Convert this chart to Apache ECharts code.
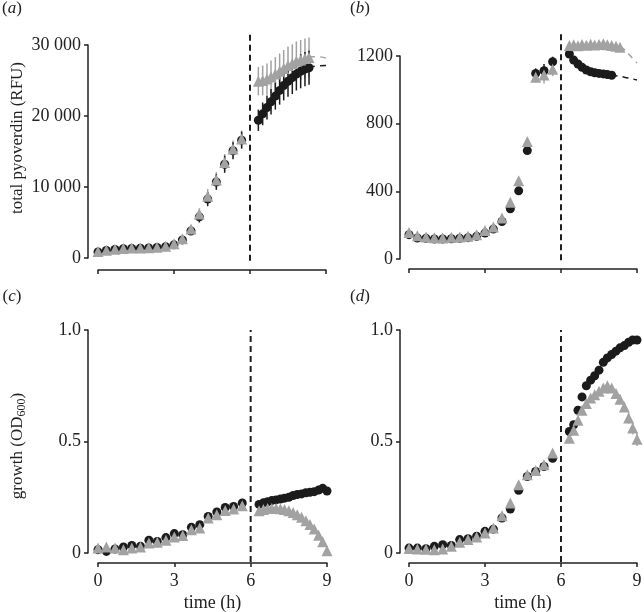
<!DOCTYPE html>
<html><head><meta charset="utf-8">
<script src="https://cdn.jsdelivr.net/npm/echarts@6/dist/echarts.min.js"></script>
<style>html,body{margin:0;padding:0;background:#fff}#c{width:644px;height:612px}</style>
</head><body><div id="c"></div>
<script>
// ---- time points (h) ----
const timePre = [0, 0.33, 0.67, 1, 1.33, 1.67, 2, 2.33, 2.67, 3, 3.33, 3.67, 4, 4.33, 4.67, 5, 5.33, 5.67];
const timePostA = [6.33, 6.5, 6.67, 6.83, 7, 7.17, 7.33, 7.5, 7.67, 7.83, 8, 8.17, 8.33];
const timePostBBlack = [6.33, 6.5, 6.67, 6.83, 7, 7.17, 7.33, 7.5, 7.67, 7.83, 8];
const timePostBGray = [6.33, 6.5, 6.67, 6.83, 7, 7.17, 7.33, 7.5, 7.67, 7.83, 8, 8.17, 8.33];
const timePostCD = [6.33, 6.5, 6.67, 6.83, 7, 7.17, 7.33, 7.5, 7.67, 7.83, 8, 8.17, 8.33, 8.5, 8.67, 8.83, 9];
const switchTime = 6;

// ---- (a) total pyoverdin (RFU) ----
const aBlackPre = [850, 1050, 1200, 1300, 1350, 1380, 1420, 1480, 1600, 1850, 2550, 3800, 5800, 8300, 10700, 13200, 15100, 16600];
const aGrayPre  = [900, 1100, 1250, 1350, 1400, 1420, 1450, 1520, 1650, 2000, 2700, 4100, 6200, 8700, 11000, 13450, 15350, 16750];
const aErrBlackPre = [100, 100, 100, 100, 100, 100, 100, 150, 200, 300, 400, 500, 800, 1000, 1100, 1200, 1200, 1200];
const aErrGrayPre  = [100, 100, 100, 100, 100, 100, 100, 150, 200, 300, 400, 500, 800, 1000, 1100, 1200, 1200, 1200];
const aBlackPost = [19400, 20300, 21200, 22000, 22800, 23600, 24300, 24900, 25400, 25900, 26300, 26600, 26800];
const aGrayPost  = [24900, 25000, 25200, 25500, 25900, 26300, 26700, 27100, 27400, 27700, 27900, 28100, 28250];
const aErrBlackPost = [1500, 1600, 1700, 1800, 1900, 2000, 2100, 2200, 2300, 2300, 2400, 2400, 2400];
const aErrGrayPost  = [2000, 2100, 2200, 2300, 2400, 2500, 2600, 2700, 2700, 2800, 2800, 2800, 2800];
const aFitTime = [8.33, 8.67, 9];
const aFitBlack = [26850, 27050, 27100];
const aFitGray  = [28350, 28350, 28150];

// ---- (b) ----
const bBlackPre = [144, 124, 122, 118, 118, 120, 122, 126, 134, 153, 177, 222, 297, 403, 641, 1097, 1113, 1166];
const bGrayPre  = [157, 138, 130, 126, 124, 128, 130, 134, 144, 169, 189, 242, 336, 462, 694, 1074, 1088, 1121];
const bErrBlackPre = [8, 8, 8, 8, 8, 8, 8, 8, 8, 8, 10, 10, 12, 15, 20, 30, 40, 30];
const bErrGrayPre  = [8, 8, 8, 8, 8, 8, 8, 8, 8, 8, 10, 10, 12, 15, 20, 30, 50, 40];
const bBlackPost = [1212, 1176, 1153, 1133, 1117, 1107, 1101, 1097, 1094, 1090, 1086];
const bGrayPost  = [1262, 1266, 1260, 1268, 1264, 1270, 1265, 1268, 1272, 1266, 1262, 1258, 1252];
const bErrBlackPost = [6, 6, 6, 6, 6, 6, 6, 6, 6, 6, 6];
const bErrGrayPost  = [15, 15, 18, 15, 18, 15, 18, 15, 18, 15, 15, 12, 10];
const bFitTimeBlack = [8, 8.5, 9];
const bFitBlack = [1086, 1075, 1058];
const bFitTimeGray = [8.33, 8.5, 8.67, 8.83, 9];
const bFitGray = [1255, 1238, 1212, 1185, 1158];

// ---- (c) growth (OD600) ----
const cBlackPre = [0.015, 0.007, 0.018, 0.027, 0.034, 0.03, 0.057, 0.052, 0.069, 0.087, 0.082, 0.115, 0.127, 0.164, 0.184, 0.204, 0.209, 0.224];
const cGrayPre  = [0.022, 0.027, 0.022, 0.015, 0.022, 0.027, 0.045, 0.048, 0.057, 0.072, 0.078, 0.104, 0.112, 0.157, 0.172, 0.191, 0.197, 0.212];
const cBlackPost = [0.218, 0.225, 0.23, 0.235, 0.238, 0.242, 0.246, 0.25, 0.258, 0.262, 0.265, 0.27, 0.272, 0.275, 0.282, 0.29, 0.278];
const cGrayPost  = [0.19, 0.195, 0.2, 0.2, 0.2, 0.198, 0.195, 0.19, 0.182, 0.172, 0.16, 0.145, 0.128, 0.108, 0.08, 0.05, 0.01];
const cErrGrayPost = [0.005, 0.005, 0.005, 0.005, 0.005, 0.005, 0.005, 0.006, 0.006, 0.007, 0.008, 0.009, 0.01, 0.012, 0.014, 0.016, 0.018];

// ---- (d) ----
const dBlackPre = [0.022, 0.022, 0.019, 0.03, 0.037, 0.034, 0.06, 0.064, 0.075, 0.097, 0.107, 0.157, 0.197, 0.281, 0.343, 0.366, 0.388, 0.425];
const dGrayPre  = [0.02, 0.018, 0.017, 0.015, 0.018, 0.03, 0.048, 0.06, 0.072, 0.09, 0.112, 0.167, 0.224, 0.306, 0.351, 0.37, 0.396, 0.448];
const dBlackPost = [0.545, 0.575, 0.64, 0.70, 0.75, 0.775, 0.795, 0.82, 0.855, 0.875, 0.89, 0.905, 0.92, 0.93, 0.945, 0.955, 0.955];
const dGrayPost  = [0.515, 0.55, 0.595, 0.64, 0.67, 0.695, 0.71, 0.725, 0.74, 0.75, 0.74, 0.715, 0.69, 0.655, 0.605, 0.56, 0.51];
const dErrGrayPost = [0.01, 0.01, 0.012, 0.012, 0.012, 0.012, 0.012, 0.012, 0.012, 0.012, 0.015, 0.018, 0.02, 0.022, 0.025, 0.028, 0.03];

// ---- axes ----
const xTicks = [0, 3, 6, 9];
const xTickLabels = ['0', '3', '6', '9'];
const yTickLabelsA = ['0', '10 000', '20 000', '30 000'];
const yTickLabelsB = ['0', '400', '800', '1200'];
const yTickLabelsCD = ['0', '0.5', '1.0'];
const yMax = [30000, 1200, 1, 1];
const yInterval = [10000, 400, 0.5, 0.5];
const dividerTop = [31700, 1340, 1.0, 1.0];
const dividerBottom = [-380, -8, -0.04, -0.04];
const panelLabels = ['a', 'b', 'c', 'd'];
const yTitles = ['total pyoverdin (RFU)', 'growth (OD{sub|600})'];

// ---- styling / layout ----
const FONT = 'Liberation Serif';
const BLACK = '#1b1b1b';
const GRAY = '#a2a2a2';
const AXIS = '#222';
const grids = [
  {left: 98, top: 45, width: 228, height: 213},
  {left: 409, top: 56, width: 228, height: 203},
  {left: 98, top: 330, width: 229, height: 223},
  {left: 409, top: 330, width: 228, height: 223}
];
const xOffsets = [12, 10, 10, 10];
const yOffsets = [10, 9, 10, 9];
const yLabelSets = [yTickLabelsA, yTickLabelsB, yTickLabelsCD, yTickLabelsCD];

function pts(t, v) { return t.map((x, k) => [x, v[k]]); }
function zeros(n) { return new Array(n).fill(0); }

function errSeries(i, t, v, e, color) {
  return {
    type: 'custom', xAxisIndex: i, yAxisIndex: i, clip: false, silent: true, z: 2,
    data: t.map((x, k) => [x, v[k] - e[k], v[k] + e[k]]),
    encode: {x: 0, y: [1, 2]},
    renderItem: (params, api) => {
      const p1 = api.coord([api.value(0), api.value(1)]);
      const p2 = api.coord([api.value(0), api.value(2)]);
      return {type: 'line', shape: {x1: p1[0], y1: p1[1], x2: p2[0], y2: p2[1]},
              style: {stroke: color, lineWidth: 1.5}};
    }
  };
}
function scat(i, data, color, sym, size, z) {
  return {type: 'scatter', xAxisIndex: i, yAxisIndex: i, data, clip: false, silent: true,
          symbol: sym, symbolSize: size, itemStyle: {color, opacity: 1}, z};
}
function fit(i, data, color) {
  return {type: 'line', xAxisIndex: i, yAxisIndex: i, data, clip: false, silent: true,
          symbol: 'none', smooth: true, lineStyle: {color, width: 1.5, type: [6, 5]}, z: 1};
}

const panels = [
  {bPre: aBlackPre, gPre: aGrayPre, ebPre: aErrBlackPre, egPre: aErrGrayPre,
   tbPost: timePostA, tgPost: timePostA, bPost: aBlackPost, gPost: aGrayPost, ebPost: aErrBlackPost, egPost: aErrGrayPost,
   fits: [[aFitTime, aFitGray, GRAY], [aFitTime, aFitBlack, BLACK]]},
  {bPre: bBlackPre, gPre: bGrayPre, ebPre: bErrBlackPre, egPre: bErrGrayPre,
   tbPost: timePostBBlack, tgPost: timePostBGray, bPost: bBlackPost, gPost: bGrayPost, ebPost: bErrBlackPost, egPost: bErrGrayPost,
   fits: [[bFitTimeGray, bFitGray, GRAY], [bFitTimeBlack, bFitBlack, BLACK]]},
  {bPre: cBlackPre, gPre: cGrayPre, ebPre: zeros(18), egPre: zeros(18),
   tbPost: timePostCD, tgPost: timePostCD, bPost: cBlackPost, gPost: cGrayPost, ebPost: zeros(17), egPost: cErrGrayPost,
   fits: []},
  {bPre: dBlackPre, gPre: dGrayPre, ebPre: zeros(18), egPre: zeros(18),
   tbPost: timePostCD, tgPost: timePostCD, bPost: dBlackPost, gPost: dGrayPost, ebPost: zeros(17), egPost: dErrGrayPost,
   fits: []}
];

const series = [];
panels.forEach((p, i) => {
  series.push({type: 'line', xAxisIndex: i, yAxisIndex: i, clip: false, silent: true, symbol: 'none',
    data: [[switchTime, dividerBottom[i]], [switchTime, dividerTop[i]]],
    lineStyle: {color: '#1e1e1e', width: 2, type: [6, 4]}, z: 1});
  p.fits.forEach(f => series.push(fit(i, pts(f[0], f[1]), f[2])));
  series.push(errSeries(i, timePre, p.gPre, p.egPre, GRAY));
  series.push(errSeries(i, p.tgPost, p.gPost, p.egPost, GRAY));
  series.push(errSeries(i, timePre, p.bPre, p.ebPre, BLACK));
  series.push(errSeries(i, p.tbPost, p.bPost, p.ebPost, BLACK));
  series.push(scat(i, pts(timePre, p.bPre).concat(pts(p.tbPost, p.bPost)), BLACK, 'circle', 9, 4));
  series.push(scat(i, pts(timePre, p.gPre).concat(pts(p.tgPost, p.gPost)), GRAY, 'triangle', 11, 5));
});

const xAxis = grids.map((g, i) => ({
  gridIndex: i, type: 'value', min: 0, max: 9, interval: 3, offset: xOffsets[i],
  axisLine: {show: true, onZero: false, lineStyle: {color: AXIS, width: 1.5}},
  axisTick: {show: true, length: 4, lineStyle: {color: AXIS, width: 1.5}},
  axisLabel: {show: i >= 2, margin: 9, color: '#222', fontFamily: FONT, fontSize: 18,
    formatter: v => xTickLabels[xTicks.indexOf(v)]},
  splitLine: {show: false},
  name: i >= 2 ? 'time (h)' : '', nameLocation: 'middle', nameGap: 31,
  nameTextStyle: {color: '#222', fontFamily: FONT, fontSize: 18}
}));
const yAxis = grids.map((g, i) => ({
  gridIndex: i, type: 'value', min: 0, max: yMax[i], interval: yInterval[i], offset: yOffsets[i],
  axisLine: {show: true, onZero: false, lineStyle: {color: AXIS, width: 1.5}},
  axisTick: {show: true, length: 4, lineStyle: {color: AXIS, width: 1.5}},
  axisLabel: {show: true, margin: 7, color: '#222', fontFamily: FONT, fontSize: 18,
    formatter: v => yLabelSets[i][Math.round(v / yInterval[i])]},
  splitLine: {show: false}
}));

const labelPos = [[12, 9], [360, 9], [12, 297], [360, 297]];
const graphic = [];
panelLabels.forEach((l, i) => graphic.push({
  type: 'text', x: labelPos[i][0], y: labelPos[i][1],
  style: {text: '({i|' + l + '})', fontFamily: FONT, fontSize: 17, fill: '#222',
    align: 'center', verticalAlign: 'middle',
    rich: {i: {fontStyle: 'italic', fontFamily: FONT, fontSize: 17, fill: '#222'}}}
}));
const titlePos = [[18, 138], [18, 446]];
yTitles.forEach((t, k) => graphic.push({
  type: 'text', x: titlePos[k][0], y: titlePos[k][1], rotation: Math.PI / 2,
  style: {text: t, fontFamily: FONT, fontSize: 17, fill: '#222', align: 'center', verticalAlign: 'middle',
    rich: {sub: {fontFamily: FONT, fontSize: 12, fill: '#222', verticalAlign: 'bottom', padding: [8, 0, 0, 0]}}}
}));

const chart = echarts.init(document.getElementById('c'), null, {renderer: 'canvas'});
chart.setOption({
  animation: false,
  backgroundColor: '#fff',
  textStyle: {fontFamily: FONT},
  grid: grids.map(g => Object.assign({containLabel: false, outerBoundsMode: 'none'}, g)),
  xAxis, yAxis, series, graphic
});
</script></body></html>
